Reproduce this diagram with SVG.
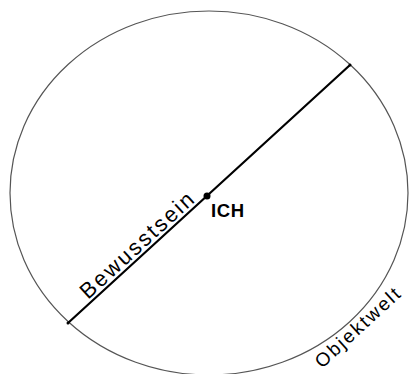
<svg xmlns="http://www.w3.org/2000/svg" width="409" height="374" viewBox="0 0 409 374">
<style>
.world{fill:none;stroke:#555;stroke-width:1.2}
.axis{stroke:#000;stroke-width:2.2;stroke-linecap:round}
.lbl{font-family:"Liberation Sans",Arial,sans-serif;fill:#000}
</style>
<rect width="409" height="374" fill="#fff"/>
<g id="objektwelt">
<ellipse class="world" cx="209" cy="193" rx="199" ry="182"/>
<text class="lbl" font-size="19" transform="translate(322,369) rotate(-42.5)" textLength="108" lengthAdjust="spacing">Objektwelt</text>
</g>
<g id="connectors">
<line class="axis" x1="68" y1="323" x2="350" y2="65"/>
<circle cx="68" cy="323" r="1.5" fill="#000"/>
<circle cx="350" cy="65" r="1.5" fill="#000"/>
</g>
<g id="bewusstsein">
<text class="lbl" font-size="22" transform="translate(88,300) rotate(-42.5)" textLength="146" lengthAdjust="spacing">Bewusstsein</text>
</g>
<g id="ich">
<circle cx="207" cy="196" r="3.5" fill="#000"/>
<text class="lbl" font-size="18.5" font-weight="bold" x="211" y="217" textLength="33" lengthAdjust="spacing">ICH</text>
</g>
</svg>
